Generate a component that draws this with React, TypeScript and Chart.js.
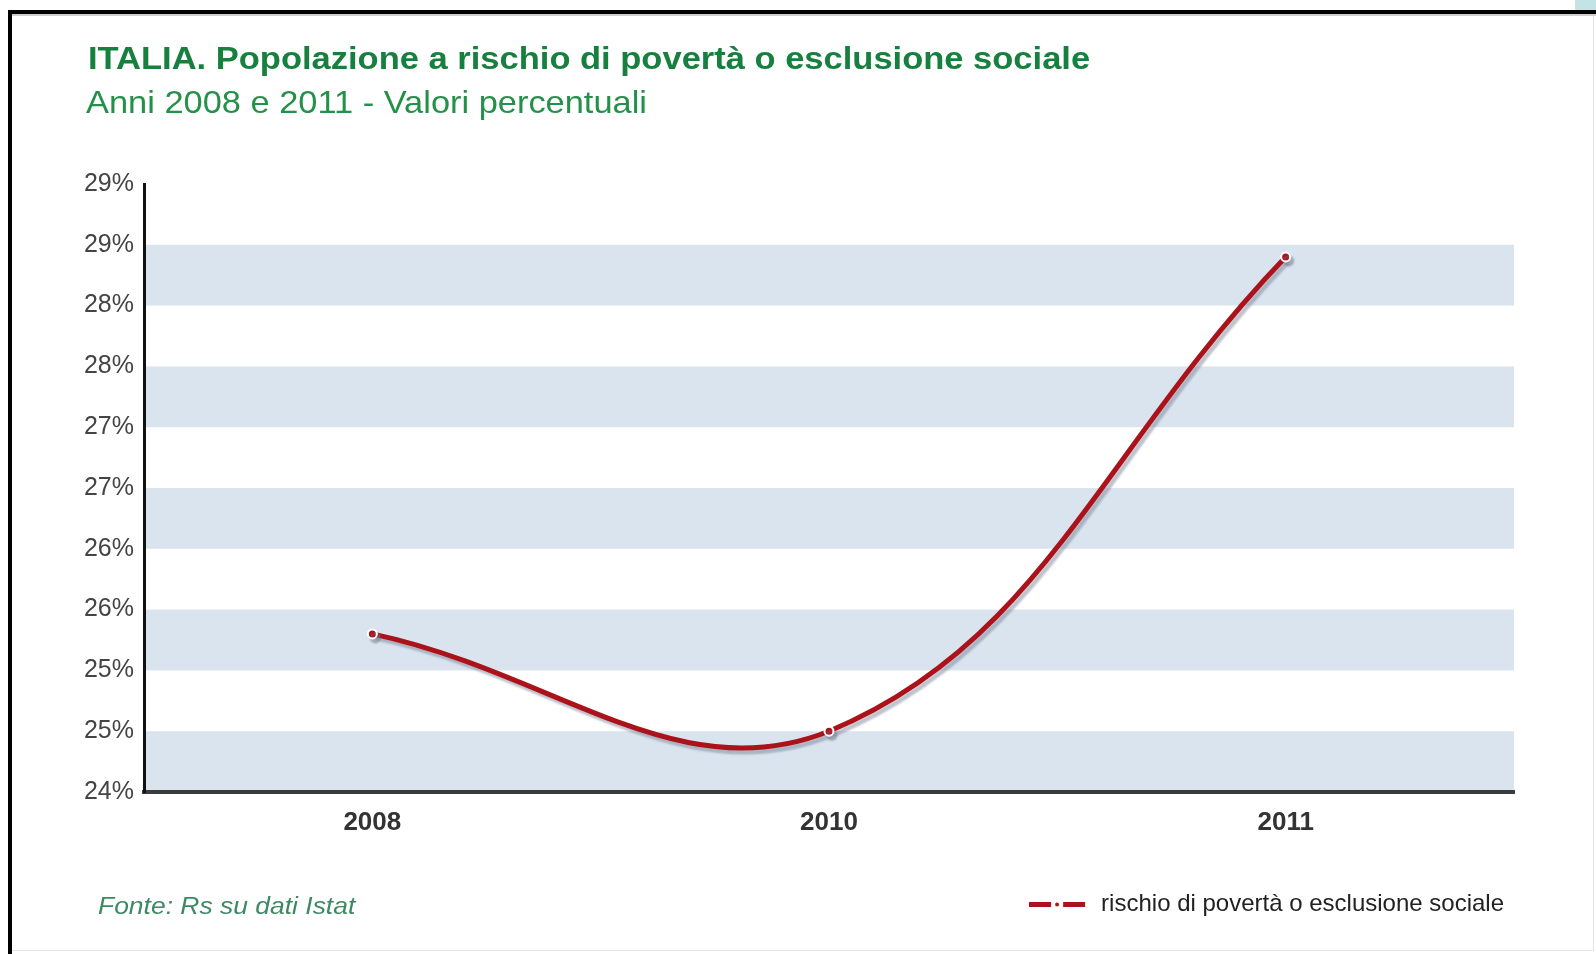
import React, { useEffect, useRef } from "react";
import { Chart, registerables } from "chart.js";

Chart.register(...registerables);

// ---- data ----
const categories = ["2008", "2010", "2011"];
const seriesLabel = "rischio di povertà o esclusione sociale";
const seriesValues = [25.3, 24.5, 28.4];
const yMin = 24;
const yMax = 29;
const yStep = 0.5;
const bandStarts = [24, 25, 26, 27, 28];
const bandSize = 0.5;
const titleText = "ITALIA. Popolazione a rischio di povertà o esclusione sociale";
const subtitleText = "Anni 2008 e 2011 - Valori percentuali";
const sourceText = "Fonte: Rs su dati Istat";

const LINE_RED = "#ab121a";
const FONT = "'Liberation Sans', Arial, Helvetica, sans-serif";

const bandsPlugin = {
  id: "bands",
  beforeDraw(chart: any) {
    const { ctx, chartArea, scales } = chart;
    const y = scales.y;
    ctx.save();
    ctx.fillStyle = "#dae4ef";
    bandStarts.forEach((s) => {
      const top = y.getPixelForValue(s + bandSize);
      const bot = y.getPixelForValue(s);
      ctx.fillRect(chartArea.left, top, chartArea.right - chartArea.left, bot - top);
    });
    ctx.restore();
  },
};

const shadowPlugin = {
  id: "lineShadow",
  beforeDatasetDraw(chart: any) {
    const ctx = chart.ctx;
    ctx.save();
    ctx.shadowColor = "rgba(110,120,140,0.45)";
    ctx.shadowOffsetX = 3;
    ctx.shadowOffsetY = 4;
    ctx.shadowBlur = 2;
  },
  afterDatasetDraw(chart: any) {
    chart.ctx.restore();
  },
};

function makeLegendSymbol(): HTMLCanvasElement {
  const c = document.createElement("canvas");
  c.width = 60;
  c.height = 12;
  const g = c.getContext("2d")!;
  g.fillStyle = LINE_RED;
  g.fillRect(0, 4, 22, 5);
  g.fillRect(34, 4, 22, 5);
  g.beginPath();
  g.arc(28, 6.5, 3.5, 0, Math.PI * 2);
  g.fillStyle = "#ffffff";
  g.fill();
  g.beginPath();
  g.arc(28, 6.5, 2, 0, Math.PI * 2);
  g.fillStyle = LINE_RED;
  g.fill();
  return c;
}

export default function App() {
  const canvasRef = useRef<HTMLCanvasElement | null>(null);

  useEffect(() => {
    if (!canvasRef.current) return;
    const symbol = makeLegendSymbol();
    const chart = new Chart(canvasRef.current, {
      type: "line",
      data: {
        labels: categories,
        datasets: [
          {
            label: seriesLabel,
            data: seriesValues,
            borderColor: LINE_RED,
            backgroundColor: LINE_RED,
            borderWidth: 5,
            tension: 0.4,
            fill: false,
            pointRadius: 4.5,
            pointBackgroundColor: LINE_RED,
            pointBorderColor: "#ffffff",
            pointBorderWidth: 2,
          },
        ],
      },
      options: {
        responsive: false,
        animation: false,
        devicePixelRatio: 1,
        layout: { padding: { top: 184, right: 82, bottom: 28, left: 0 } },
        plugins: {
          title: { display: false },
          tooltip: { enabled: false },
          legend: {
            display: true,
            position: "bottom",
            align: "end",
            labels: {
              usePointStyle: true,
              pointStyle: symbol as any,
              pointStyleWidth: 60,
              color: "#222222",
              padding: 10,
              font: { family: FONT, size: 24 },
            },
          },
        },
        scales: {
          x: {
            type: "category",
            offset: true,
            afterFit: (s: any) => {
              s.height = 90;
            },
            grid: { drawOnChartArea: false, drawTicks: false, color: "rgba(0,0,0,0)" },
            border: { display: true, color: "#3b3b3b", width: 4 },
            ticks: {
              color: "#333333",
              padding: 15,
              font: { family: FONT, size: 26, weight: "bold" },
            },
          },
          y: {
            min: yMin,
            max: yMax,
            afterFit: (s: any) => {
              s.width = 144;
            },
            grid: { drawOnChartArea: false, drawTicks: false, color: "rgba(0,0,0,0)" },
            border: { display: true, color: "#111111", width: 3 },
            ticks: {
              stepSize: yStep,
              autoSkip: false,
              color: "#444444",
              padding: 10,
              font: { family: FONT, size: 25 },
              callback: (v: any) => Math.round(Number(v)) + "%",
            },
          },
        },
      },
      plugins: [bandsPlugin, shadowPlugin],
    });
    return () => chart.destroy();
  }, []);

  const stretched = (extra: React.CSSProperties): React.CSSProperties => ({
    position: "absolute",
    whiteSpace: "nowrap",
    fontFamily: FONT,
    lineHeight: 1,
    transformOrigin: "left top",
    ...extra,
  });

  return (
    <div
      style={{
        position: "fixed",
        left: 0,
        top: 0,
        width: 1596,
        height: 954,
        background: "#ffffff",
        overflow: "hidden",
      }}
    >
      <canvas
        ref={canvasRef}
        width={1596}
        height={954}
        style={{ position: "absolute", left: 0, top: 0, width: 1596, height: 954 }}
      />
      {/* frame */}
      <div style={{ position: "absolute", left: 1575, top: 0, width: 21, height: 10, background: "#c3e3e7" }} />
      <div style={{ position: "absolute", left: 8, top: 10, width: 1588, height: 4, background: "#000" }} />
      <div style={{ position: "absolute", left: 12, top: 14, width: 1584, height: 2, background: "#cfcfcf" }} />
      <div style={{ position: "absolute", left: 8, top: 10, width: 4, height: 944, background: "#000" }} />
      <div style={{ position: "absolute", left: 1593, top: 16, width: 1, height: 934, background: "#e4e4e4" }} />
      <div style={{ position: "absolute", left: 12, top: 950, width: 1582, height: 1, background: "#e4e4e4" }} />
      {/* texts */}
      <div
        style={stretched({
          left: 88,
          top: 43,
          fontSize: 31,
          fontWeight: "bold",
          color: "#17803f",
          transform: "scaleX(1.113)",
        })}
      >
        {titleText}
      </div>
      <div
        style={stretched({
          left: 86,
          top: 86,
          fontSize: 32,
          color: "#259049",
          transform: "scaleX(1.075)",
        })}
      >
        {subtitleText}
      </div>
      <div
        style={stretched({
          left: 98,
          top: 895,
          fontSize: 23,
          fontStyle: "italic",
          color: "#3d8a62",
          transform: "scaleX(1.15)",
        })}
      >
        {sourceText}
      </div>
    </div>
  );
}
